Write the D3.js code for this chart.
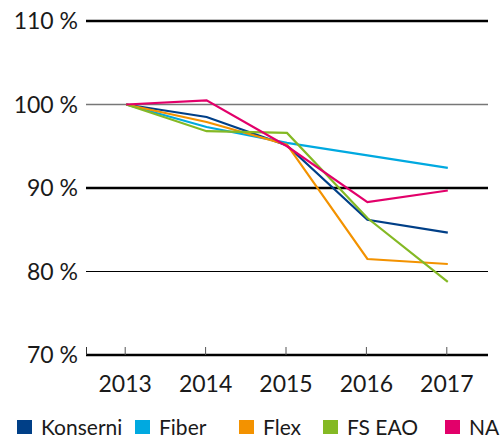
<!DOCTYPE html>
<html><head><meta charset="utf-8">
<script src="https://cdn.jsdelivr.net/npm/d3@7"></script>
<style>body{margin:0;background:#fff}svg{display:block}text{font-family:Lato,"Open Sans",sans-serif;fill:#1a1a1a}</style>
</head><body><svg id="c" width="500" height="438"></svg>
<script>
const years = ["2013","2014","2015","2016","2017"];
const seriesNames = ["Konserni","Fiber","Flex","FS EAO","NA"];
const konserni = [100, 98.5, 95.1, 86.2, 84.65];
const fiber    = [100, 97.3, 95.4, 93.9, 92.4];
const flex     = [100, 97.9, 95.2, 81.5, 80.9];
const fsEao    = [100, 96.8, 96.6, 86.4, 78.75];
const na       = [100, 100.5, 95.0, 88.3, 89.7];
const yTicks = [70, 80, 90, 100, 110];
const colors = ["#003f87","#00a9e0","#f39200","#84b924","#e2006a"];
const allSeries = [konserni, fiber, flex, fsEao, na];

const svg = d3.select("#c");
const x = d3.scaleBand().domain(years).range([86, 488]);
const y = d3.scaleLinear().domain([70, 110]).range([355, 21]);

// gridlines
const gridStyle = {110:{c:"#000",w:2.5},100:{c:"#777",w:1.5},90:{c:"#000",w:2.5},80:{c:"#000",w:1}};
yTicks.filter(t => t > 70).forEach(t => {
  svg.append("line").attr("x1",86).attr("x2",488).attr("y1",y(t)).attr("y2",y(t))
    .attr("stroke",gridStyle[t].c).attr("stroke-width",gridStyle[t].w);
});
// y labels
svg.selectAll("text.yl").data(yTicks).enter().append("text").attr("class","yl")
  .attr("x",78).attr("y",d=>y(d)).attr("dy","0.36em").attr("text-anchor","end")
  .style("font-size","23px").text(d=>d+" %");

// x axis
const xc = d => x(d) + x.bandwidth()/2;
svg.append("line").attr("x1",86).attr("x2",488).attr("y1",355).attr("y2",355)
  .attr("stroke","#000").attr("stroke-width",2.5);
svg.append("line").attr("x1",86.5).attr("x2",86.5).attr("y1",347).attr("y2",355).attr("stroke","#333").attr("stroke-width",1);
years.forEach(yr => {
  svg.append("line").attr("x1",xc(yr)-1).attr("x2",xc(yr)-1).attr("y1",347).attr("y2",355)
    .attr("stroke","#555").attr("stroke-width",1);
});
svg.selectAll("text.xl").data(years).enter().append("text").attr("class","xl")
  .attr("x",d=>xc(d)-1).attr("y",392).attr("text-anchor","middle")
  .style("font-size","23px").text(d=>d);

// lines
const line = d3.line().x((d,i)=>xc(years[i])).y(d=>y(d));
allSeries.forEach((s,i) => {
  svg.append("path").datum(s).attr("d",line).attr("fill","none")
    .attr("stroke",colors[i]).attr("stroke-width",2.2).attr("stroke-linejoin","miter");
});

// legend
const legendX = [17, 135, 239, 323, 445];
seriesNames.forEach((n,i) => {
  svg.append("rect").attr("x",legendX[i]).attr("y",420).attr("width",15).attr("height",14).attr("fill",colors[i]);
  svg.append("text").attr("x",legendX[i]+24).attr("y",427).attr("dy","0.36em")
    .style("font-size","21px").text(n);
});
</script></body></html>
